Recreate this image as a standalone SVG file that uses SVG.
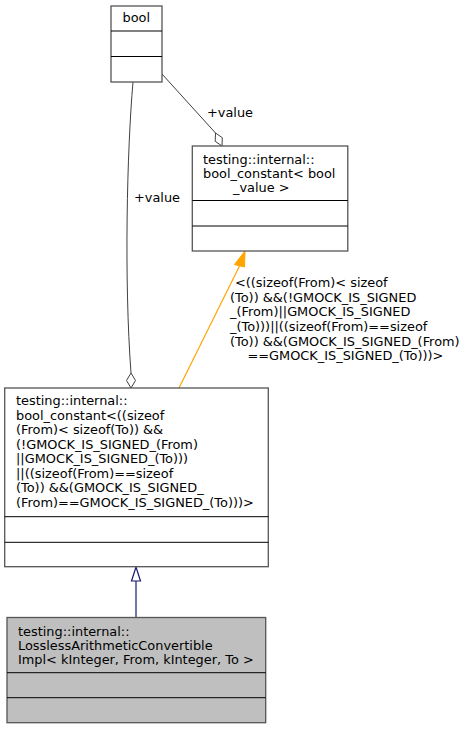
<svg xmlns="http://www.w3.org/2000/svg" width="469" height="729" viewBox="0 0 469 729">
<style>
text{font-family:"DejaVu Sans",sans-serif;font-size:12.9px;fill:#000}
.box{fill:#fff;stroke:#555;stroke-width:1.3}
.cur{fill:#bfbfbf;stroke:#555;stroke-width:1.3}
.div{stroke:#000;stroke-width:1}
.use{fill:none;stroke:#404040;stroke-width:1}
.dia{fill:#fff;stroke:#404040;stroke-width:1}
.tmpl{fill:none;stroke:#ffa500;stroke-width:1.2}
.inh{fill:none;stroke:#191970;stroke-width:1.2}
</style>
<rect width="469" height="729" fill="#fff"/>
<g id="connectors">
  <path class="use" d="M162,74 L215.5,133"/>
  <polygon class="dia" points="215.5,133 222.3,137.7 222,146 215.2,141.3"/>
  <text x="207" y="117">+value</text>
  <path class="use" d="M133,82 C127,150 124,280 131,373"/>
  <polygon class="dia" points="131,373 135.5,380.5 131,388 126.5,380.5"/>
  <text x="134" y="202">+value</text>
  <path class="tmpl" d="M179,388 L239.5,266"/>
  <polygon points="245,251 244.5,267 234.5,264.5" fill="#ffa500" stroke="#ffa500"/>
  <text x="235" y="287">&lt;((sizeof(From)&lt; sizeof</text>
  <text x="230" y="301.5">(To)) &amp;&amp;(!GMOCK_IS_SIGNED</text>
  <text x="230" y="316">_(From)||GMOCK_IS_SIGNED</text>
  <text x="230" y="330.5">_(To)))||((sizeof(From)==sizeof</text>
  <text x="230" y="345.5">(To)) &amp;&amp;(GMOCK_IS_SIGNED_(From)</text>
  <text x="247.5" y="360">==GMOCK_IS_SIGNED_(To)))&gt;</text>
  <path class="inh" d="M136,618 L136,581"/>
  <polygon points="136,567 140.5,581 131.5,581" fill="#fff" stroke="#191970" stroke-width="1.2"/>
</g>
<g id="node-bool">
  <rect class="box" x="111" y="6" width="51" height="76"/>
  <line class="div" x1="111" y1="31" x2="162" y2="31"/>
  <line class="div" x1="111" y1="56.5" x2="162" y2="56.5"/>
  <text x="122.5" y="22">bool</text>
</g>
<g id="node-bool-constant-value">
  <rect class="box" x="192.3" y="146" width="155.5" height="105"/>
  <line class="div" x1="192.3" y1="200.5" x2="347.8" y2="200.5"/>
  <line class="div" x1="192.3" y1="226" x2="347.8" y2="226"/>
  <text x="203" y="163.5">testing::internal::</text>
  <text x="203" y="177.5">bool_constant&lt; bool</text>
  <text x="233" y="192">_value &gt;</text>
</g>
<g id="node-bool-constant-expr">
  <rect class="box" x="4.7" y="388" width="263.6" height="178.7"/>
  <line class="div" x1="4.7" y1="516.7" x2="268.3" y2="516.7"/>
  <line class="div" x1="4.7" y1="542.3" x2="268.3" y2="542.3"/>
  <text x="16" y="405">testing::internal::</text>
  <text x="16" y="419.5">bool_constant&lt;((sizeof</text>
  <text x="16" y="434">(From)&lt; sizeof(To)) &amp;&amp;</text>
  <text x="16" y="448.5">(!GMOCK_IS_SIGNED_(From)</text>
  <text x="16" y="463">||GMOCK_IS_SIGNED_(To)))</text>
  <text x="16" y="477.5">||((sizeof(From)==sizeof</text>
  <text x="16" y="492">(To)) &amp;&amp;(GMOCK_IS_SIGNED_</text>
  <text x="16" y="506.5">(From)==GMOCK_IS_SIGNED_(To)))&gt;</text>
</g>
<g id="node-lossless">
  <rect class="cur" x="7" y="617.5" width="258.7" height="105.2"/>
  <line class="div" x1="7" y1="672.7" x2="265.7" y2="672.7"/>
  <line class="div" x1="7" y1="697.7" x2="265.7" y2="697.7"/>
  <text x="18" y="635.5">testing::internal::</text>
  <text x="18" y="649.5">LosslessArithmeticConvertible</text>
  <text x="18" y="663.5">Impl&lt; kInteger, From, kInteger, To &gt;</text>
</g>
</svg>
